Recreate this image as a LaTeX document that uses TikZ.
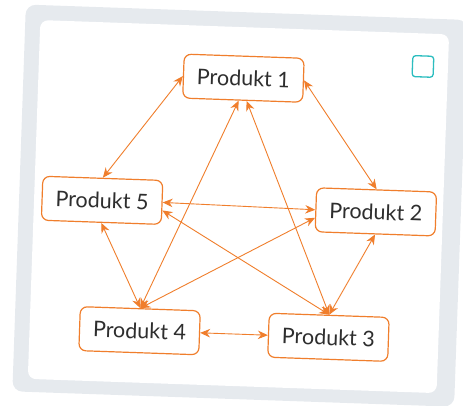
\documentclass[tikz,border=0pt]{standalone}
\usepackage{fontspec}
\setmainfont{Lato}
\usetikzlibrary{arrows.meta}
\definecolor{rahmen}{HTML}{E6EAEE}
\definecolor{orange1}{HTML}{F07E2C}
\definecolor{tuerkis}{HTML}{2BBDBF}
\definecolor{schrift}{HTML}{2E2E2E}

\begin{document}
\begin{tikzpicture}[x=1pt,y=1pt,
  produkt/.style={draw=orange1, line width=1.2pt, rounded corners=7pt, fill=white,
    minimum width=120pt, minimum height=44pt, text=schrift,
    font=\fontsize{21.5}{25}\selectfont},
  pfeil/.style={orange1, line width=0.9pt,
    {Stealth[length=10pt,width=8.5pt]}-{Stealth[length=10pt,width=8.5pt]}}]
\useasboundingbox (0,0) rectangle (463,-405);
\begin{scope}[rotate around={-2:(236,-205)}, transform shape]
\fill [rahmen, rounded corners=10pt] (19,-12) rectangle (461,-399);
\fill [white, rounded corners=8pt] (34,-27) rectangle (443,-386);
\draw [tuerkis, line width=1.3pt, rounded corners=3pt] (407.5,-49.5) rectangle (428.5,-70.5);

\node[produkt] (p1) at (239,-78) {Produkt 1};
\node[produkt] (p2) at (376,-207) {Produkt 2};
\node[produkt] (p3) at (333,-334) {Produkt 3};
\node[produkt] (p4) at (144,-334) {Produkt 4};
\node[produkt] (p5) at (102,-205) {Produkt 5};

\draw [pfeil] (p1.west) -- (p5.north);
\draw [pfeil] (p1.east) -- (p2.north);
\draw [pfeil] ([xshift=-4pt]p1.south) -- (p4.north);
\draw [pfeil] ([xshift=4pt]p1.south) -- (p3.north);
\draw [pfeil] (p5.east) -- (p2.west);
\draw [pfeil] ([yshift=-8pt]p5.east) -- (p3.north);
\draw [pfeil] ([yshift=-8pt]p2.west) -- (p4.north);
\draw [pfeil] (p5.south) -- (p4.north);
\draw [pfeil] (p2.south) -- (p3.north);
\draw [pfeil] (p4.east) -- (p3.west);
\end{scope}
\end{tikzpicture}
\end{document}
